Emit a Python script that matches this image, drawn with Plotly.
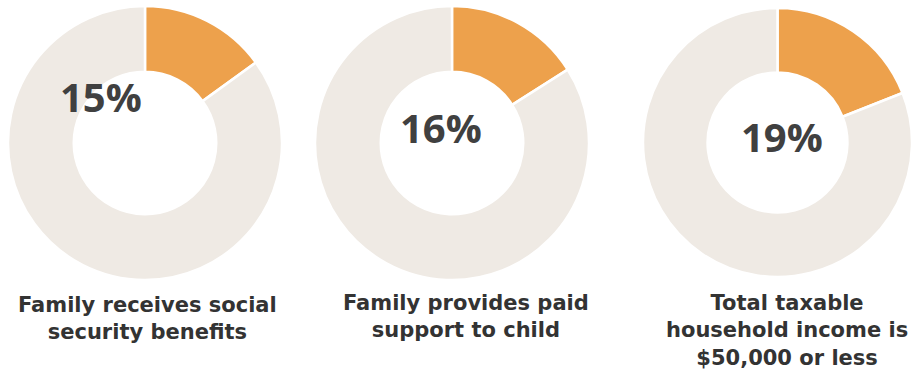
import plotly.graph_objects as go

# Share of families in each category (percent)
categories = [
    "Family receives social<br>security benefits",
    "Family provides paid<br>support to child",
    "Total taxable<br>household income is<br>$50,000 or less",
]
shares = [15, 16, 19]

W, H = 912, 370
ORANGE = "#EDA14C"
GREY = "#EFEAE4"
TEXT = "#404040"

# Pixel boxes for each donut: (left, right, top, bottom)
boxes = [(8, 282, 6, 280), (315, 589, 6, 280), (643, 912, 8, 277)]
# Percentage label anchors (px) and caption centres (px)
pct_pos = [(101, 96), (441, 127), (782, 136)]
cap_pos = [(147, 291), (466, 289), (787, 289)]

fig = go.Figure()
for share, (l, r, t, b) in zip(shares, boxes):
    fig.add_trace(go.Pie(
        values=[share, 100 - share],
        labels=["yes", "no"],
        hole=0.52,
        sort=False,
        direction="clockwise",
        rotation=0,
        marker=dict(colors=[ORANGE, GREY], line=dict(color="white", width=2.5)),
        textinfo="none",
        hoverinfo="skip",
        showlegend=False,
        domain=dict(x=[l / W, r / W], y=[1 - b / H, 1 - t / H]),
    ))

annotations = []
for share, (x, y) in zip(shares, pct_pos):
    annotations.append(dict(
        text=f"<b>{share}%</b>", x=x / W, y=1 - y / H, xref="paper", yref="paper",
        xanchor="center", yanchor="middle", showarrow=False,
        font=dict(family="Open Sans", size=40, color=TEXT),
    ))
for cat, (x, y) in zip(categories, cap_pos):
    annotations.append(dict(
        text=f"<b>{cat}</b>", x=x / W, y=1 - y / H, xref="paper", yref="paper",
        xanchor="center", yanchor="top", showarrow=False, align="center",
        font=dict(family="DejaVu Sans", size=21, color="#333333"),
    ))

fig.update_layout(
    width=W, height=H,
    margin=dict(l=0, r=0, t=0, b=0),
    paper_bgcolor="white", plot_bgcolor="white",
    annotations=annotations,
)

fig.write_html("out.html")
